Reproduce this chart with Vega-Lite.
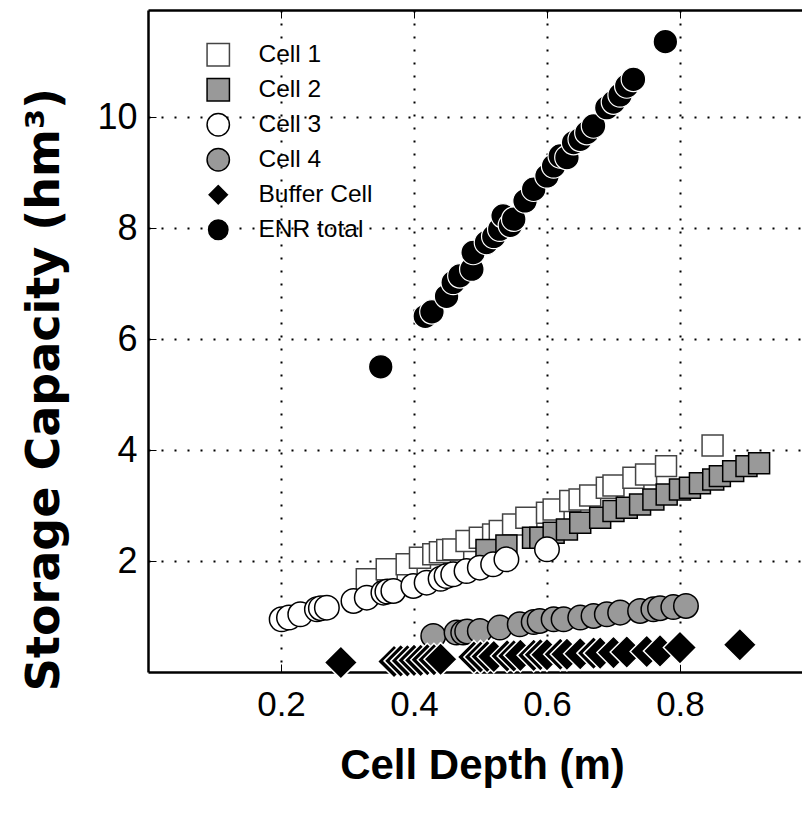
{
  "$schema": "https://vega.github.io/schema/vega-lite/v6.json",
  "width": 654,
  "height": 662,
  "autosize": {"type": "none"},
  "padding": {"left": 148, "top": 10, "right": 0, "bottom": 141},
  "background": "white",
  "config": {
    "view": {"stroke": null},
    "axis": {"labelColor": "black", "titleColor": "black", "tickColor": "black", "domainColor": "black"}
  },
  "datasets": {
    "pts": [
      {"series": "Cell 1", "d": 0.329, "s": 1.67},
      {"series": "Cell 1", "d": 0.359, "s": 1.85},
      {"series": "Cell 1", "d": 0.389, "s": 1.94},
      {"series": "Cell 1", "d": 0.409, "s": 2.06},
      {"series": "Cell 1", "d": 0.429, "s": 2.12},
      {"series": "Cell 1", "d": 0.439, "s": 2.16},
      {"series": "Cell 1", "d": 0.45, "s": 2.2},
      {"series": "Cell 1", "d": 0.459, "s": 2.21},
      {"series": "Cell 1", "d": 0.479, "s": 2.36},
      {"series": "Cell 1", "d": 0.499, "s": 2.42},
      {"series": "Cell 1", "d": 0.519, "s": 2.48},
      {"series": "Cell 1", "d": 0.529, "s": 2.54},
      {"series": "Cell 1", "d": 0.549, "s": 2.66},
      {"series": "Cell 1", "d": 0.569, "s": 2.78},
      {"series": "Cell 1", "d": 0.6, "s": 2.87},
      {"series": "Cell 1", "d": 0.61, "s": 2.93},
      {"series": "Cell 1", "d": 0.635, "s": 3.08},
      {"series": "Cell 1", "d": 0.649, "s": 3.11},
      {"series": "Cell 1", "d": 0.665, "s": 3.18},
      {"series": "Cell 1", "d": 0.69, "s": 3.32},
      {"series": "Cell 1", "d": 0.7, "s": 3.36},
      {"series": "Cell 1", "d": 0.73, "s": 3.5},
      {"series": "Cell 1", "d": 0.749, "s": 3.56},
      {"series": "Cell 1", "d": 0.779, "s": 3.71},
      {"series": "Cell 1", "d": 0.849, "s": 4.08},
      {"series": "Cell 2", "d": 0.509, "s": 2.2},
      {"series": "Cell 2", "d": 0.539, "s": 2.28},
      {"series": "Cell 2", "d": 0.579, "s": 2.42},
      {"series": "Cell 2", "d": 0.59, "s": 2.42},
      {"series": "Cell 2", "d": 0.61, "s": 2.51},
      {"series": "Cell 2", "d": 0.63, "s": 2.57},
      {"series": "Cell 2", "d": 0.65, "s": 2.69},
      {"series": "Cell 2", "d": 0.68, "s": 2.78},
      {"series": "Cell 2", "d": 0.7, "s": 2.9},
      {"series": "Cell 2", "d": 0.72, "s": 2.96},
      {"series": "Cell 2", "d": 0.74, "s": 3.02},
      {"series": "Cell 2", "d": 0.76, "s": 3.11},
      {"series": "Cell 2", "d": 0.78, "s": 3.2},
      {"series": "Cell 2", "d": 0.8, "s": 3.29},
      {"series": "Cell 2", "d": 0.815, "s": 3.32},
      {"series": "Cell 2", "d": 0.83, "s": 3.4},
      {"series": "Cell 2", "d": 0.85, "s": 3.47},
      {"series": "Cell 2", "d": 0.86, "s": 3.53},
      {"series": "Cell 2", "d": 0.88, "s": 3.62},
      {"series": "Cell 2", "d": 0.9, "s": 3.71},
      {"series": "Cell 2", "d": 0.919, "s": 3.76},
      {"series": "Cell 3", "d": 0.201, "s": 0.95},
      {"series": "Cell 3", "d": 0.212, "s": 0.98},
      {"series": "Cell 3", "d": 0.229, "s": 1.04},
      {"series": "Cell 3", "d": 0.254, "s": 1.13},
      {"series": "Cell 3", "d": 0.26, "s": 1.15},
      {"series": "Cell 3", "d": 0.269, "s": 1.16},
      {"series": "Cell 3", "d": 0.309, "s": 1.28},
      {"series": "Cell 3", "d": 0.329, "s": 1.34},
      {"series": "Cell 3", "d": 0.354, "s": 1.43},
      {"series": "Cell 3", "d": 0.36, "s": 1.45},
      {"series": "Cell 3", "d": 0.369, "s": 1.46},
      {"series": "Cell 3", "d": 0.399, "s": 1.55},
      {"series": "Cell 3", "d": 0.419, "s": 1.61},
      {"series": "Cell 3", "d": 0.44, "s": 1.68},
      {"series": "Cell 3", "d": 0.449, "s": 1.73},
      {"series": "Cell 3", "d": 0.459, "s": 1.76},
      {"series": "Cell 3", "d": 0.479, "s": 1.82},
      {"series": "Cell 3", "d": 0.499, "s": 1.88},
      {"series": "Cell 3", "d": 0.519, "s": 1.94},
      {"series": "Cell 3", "d": 0.539, "s": 2.03},
      {"series": "Cell 3", "d": 0.6, "s": 2.21},
      {"series": "Cell 4", "d": 0.429, "s": 0.65},
      {"series": "Cell 4", "d": 0.464, "s": 0.71},
      {"series": "Cell 4", "d": 0.474, "s": 0.71},
      {"series": "Cell 4", "d": 0.48, "s": 0.73},
      {"series": "Cell 4", "d": 0.499, "s": 0.74},
      {"series": "Cell 4", "d": 0.529, "s": 0.8},
      {"series": "Cell 4", "d": 0.559, "s": 0.86},
      {"series": "Cell 4", "d": 0.58, "s": 0.9},
      {"series": "Cell 4", "d": 0.589, "s": 0.92},
      {"series": "Cell 4", "d": 0.61, "s": 0.95},
      {"series": "Cell 4", "d": 0.625, "s": 0.95},
      {"series": "Cell 4", "d": 0.65, "s": 0.98},
      {"series": "Cell 4", "d": 0.67, "s": 1.01},
      {"series": "Cell 4", "d": 0.69, "s": 1.04},
      {"series": "Cell 4", "d": 0.71, "s": 1.07},
      {"series": "Cell 4", "d": 0.74, "s": 1.1},
      {"series": "Cell 4", "d": 0.76, "s": 1.13},
      {"series": "Cell 4", "d": 0.77, "s": 1.15},
      {"series": "Cell 4", "d": 0.79, "s": 1.17},
      {"series": "Cell 4", "d": 0.809, "s": 1.19},
      {"series": "Buffer Cell", "d": 0.29, "s": 0.17},
      {"series": "Buffer Cell", "d": 0.37, "s": 0.19},
      {"series": "Buffer Cell", "d": 0.38, "s": 0.2},
      {"series": "Buffer Cell", "d": 0.39, "s": 0.2},
      {"series": "Buffer Cell", "d": 0.4, "s": 0.21},
      {"series": "Buffer Cell", "d": 0.41, "s": 0.21},
      {"series": "Buffer Cell", "d": 0.42, "s": 0.22},
      {"series": "Buffer Cell", "d": 0.43, "s": 0.22},
      {"series": "Buffer Cell", "d": 0.44, "s": 0.23},
      {"series": "Buffer Cell", "d": 0.49, "s": 0.27},
      {"series": "Buffer Cell", "d": 0.5, "s": 0.27},
      {"series": "Buffer Cell", "d": 0.51, "s": 0.28},
      {"series": "Buffer Cell", "d": 0.52, "s": 0.28},
      {"series": "Buffer Cell", "d": 0.54, "s": 0.29},
      {"series": "Buffer Cell", "d": 0.55, "s": 0.29},
      {"series": "Buffer Cell", "d": 0.56, "s": 0.3},
      {"series": "Buffer Cell", "d": 0.58, "s": 0.3},
      {"series": "Buffer Cell", "d": 0.59, "s": 0.31},
      {"series": "Buffer Cell", "d": 0.6, "s": 0.31},
      {"series": "Buffer Cell", "d": 0.62, "s": 0.32},
      {"series": "Buffer Cell", "d": 0.63, "s": 0.32},
      {"series": "Buffer Cell", "d": 0.65, "s": 0.33},
      {"series": "Buffer Cell", "d": 0.67, "s": 0.34},
      {"series": "Buffer Cell", "d": 0.68, "s": 0.34},
      {"series": "Buffer Cell", "d": 0.7, "s": 0.35},
      {"series": "Buffer Cell", "d": 0.72, "s": 0.36},
      {"series": "Buffer Cell", "d": 0.75, "s": 0.37},
      {"series": "Buffer Cell", "d": 0.77, "s": 0.38},
      {"series": "Buffer Cell", "d": 0.8, "s": 0.44},
      {"series": "Buffer Cell", "d": 0.89, "s": 0.49},
      {"series": "ENR total", "d": 0.35, "s": 5.5},
      {"series": "ENR total", "d": 0.417, "s": 6.41},
      {"series": "ENR total", "d": 0.427, "s": 6.49},
      {"series": "ENR total", "d": 0.449, "s": 6.77},
      {"series": "ENR total", "d": 0.459, "s": 7.02},
      {"series": "ENR total", "d": 0.469, "s": 7.14},
      {"series": "ENR total", "d": 0.487, "s": 7.26},
      {"series": "ENR total", "d": 0.489, "s": 7.56},
      {"series": "ENR total", "d": 0.509, "s": 7.74},
      {"series": "ENR total", "d": 0.52, "s": 7.85},
      {"series": "ENR total", "d": 0.529, "s": 7.98},
      {"series": "ENR total", "d": 0.534, "s": 8.22},
      {"series": "ENR total", "d": 0.545, "s": 8.05},
      {"series": "ENR total", "d": 0.55, "s": 8.16},
      {"series": "ENR total", "d": 0.567, "s": 8.49},
      {"series": "ENR total", "d": 0.58, "s": 8.7},
      {"series": "ENR total", "d": 0.6, "s": 8.94},
      {"series": "ENR total", "d": 0.61, "s": 9.12},
      {"series": "ENR total", "d": 0.62, "s": 9.3},
      {"series": "ENR total", "d": 0.63, "s": 9.27},
      {"series": "ENR total", "d": 0.64, "s": 9.54},
      {"series": "ENR total", "d": 0.65, "s": 9.6},
      {"series": "ENR total", "d": 0.66, "s": 9.72},
      {"series": "ENR total", "d": 0.67, "s": 9.84},
      {"series": "ENR total", "d": 0.69, "s": 10.17},
      {"series": "ENR total", "d": 0.7, "s": 10.27},
      {"series": "ENR total", "d": 0.71, "s": 10.4},
      {"series": "ENR total", "d": 0.72, "s": 10.56},
      {"series": "ENR total", "d": 0.73, "s": 10.68},
      {"series": "ENR total", "d": 0.778, "s": 11.36}
    ]
  },
  "data": {"name": "pts"},
  "layer": [
    {
      "encoding": {
        "x": {
          "field": "d", "type": "quantitative",
          "scale": {"domain": [0, 0.9835], "nice": false, "zero": false},
          "axis": {
            "orient": "bottom", "values": [0.2, 0.4, 0.6, 0.8], "format": ".1f",
            "grid": true, "gridColor": "black", "gridDash": [2, 11], "gridWidth": 2, "gridOpacity": 1,
            "domain": true, "domainWidth": 2.5,
            "ticks": true, "tickSize": -8, "tickWidth": 1,
            "labelFont": "Liberation Sans", "labelFontSize": 35, "labelPadding": 23,
            "title": "Cell Depth (m)", "titleFont": "Liberation Sans",
            "titleFontSize": 42, "titleFontWeight": "bold",
            "titleX": 334, "titleY": 93, "titleAlign": "center", "titleBaseline": "middle"
          }
        },
        "y": {
          "field": "s", "type": "quantitative",
          "scale": {"domain": [0, 11.93], "nice": false, "zero": false},
          "axis": {
            "orient": "left", "values": [2, 4, 6, 8, 10], "format": "d",
            "grid": true, "gridColor": "black", "gridDash": [2, 11], "gridWidth": 2, "gridOpacity": 1,
            "domain": true, "domainWidth": 2.5,
            "ticks": true, "tickSize": -8, "tickWidth": 1,
            "labelFont": "Liberation Sans", "labelFontSize": 36, "labelPadding": 19,
            "title": "Storage Capacity (hm³)", "titleFont": "DejaVu Sans", "titleFontSize": 46, "titleFontWeight": "bold",
            "titleAngle": -90, "titleX": -104, "titleY": 379, "titleAlign": "center", "titleBaseline": "middle"
          }
        },
        "shape": {
          "field": "series", "type": "nominal",
          "scale": {"domain": ["Cell 1", "Cell 2", "Cell 3", "Cell 4", "Buffer Cell", "ENR total"],
                    "range": ["square", "square", "circle", "circle", "diamond", "circle"]},
          "legend": {
            "orient": "none", "legendX": 58, "legendY": 32.5, "title": null, "padding": 0,
            "labelFont": "Liberation Sans", "labelFontSize": 24.5, "labelColor": "black",
            "symbolSize": 500, "symbolStrokeWidth": 1.5, "labelOffset": 28, "rowPadding": 6
          }
        },
        "fill": {
          "field": "series", "type": "nominal",
          "scale": {"domain": ["Cell 1", "Cell 2", "Cell 3", "Cell 4", "Buffer Cell", "ENR total"],
                    "range": ["white", "#999999", "white", "#999999", "black", "black"]},
          "legend": {
            "orient": "none", "legendX": 58, "legendY": 32.5, "title": null, "padding": 0,
            "labelFont": "Liberation Sans", "labelFontSize": 24.5, "labelColor": "black",
            "symbolSize": 500, "symbolStrokeWidth": 1.5, "labelOffset": 28, "rowPadding": 6
          }
        },
        "stroke": {
          "field": "series", "type": "nominal",
          "scale": {"domain": ["Cell 1", "Cell 2", "Cell 3", "Cell 4", "Buffer Cell", "ENR total"],
                    "range": ["#444444", "black", "black", "black", "white", "white"]},
          "legend": {
            "orient": "none", "legendX": 58, "legendY": 32.5, "title": null, "padding": 0,
            "labelFont": "Liberation Sans", "labelFontSize": 24.5, "labelColor": "black",
            "symbolSize": 500, "symbolStrokeWidth": 1.5, "labelOffset": 28, "rowPadding": 6
          }
        }
      },
      "layer": [
        {"transform": [{"filter": "datum.series === 'Cell 1'"}],
         "mark": {"type": "point", "filled": true, "opacity": 1, "strokeWidth": 1.5, "size": 440}},
        {"transform": [{"filter": "datum.series === 'Cell 2'"}],
         "mark": {"type": "point", "filled": true, "opacity": 1, "strokeWidth": 1.5, "size": 440}},
        {"transform": [{"filter": "datum.series === 'Cell 3'"}],
         "mark": {"type": "point", "filled": true, "opacity": 1, "strokeWidth": 1.5, "size": 600}},
        {"transform": [{"filter": "datum.series === 'Cell 4'"}],
         "mark": {"type": "point", "filled": true, "opacity": 1, "strokeWidth": 1.5, "size": 600}},
        {"transform": [{"filter": "datum.series === 'Buffer Cell'"}],
         "mark": {"type": "point", "filled": true, "opacity": 1, "strokeWidth": 1.5, "size": 1100}},
        {"transform": [{"filter": "datum.series === 'ENR total'"}],
         "mark": {"type": "point", "filled": true, "opacity": 1, "strokeWidth": 1.2, "size": 600}}
      ]
    },
    {
      "mark": {"type": "point", "opacity": 0},
      "encoding": {
        "x": {
          "field": "d", "type": "quantitative",
          "axis": {
            "orient": "top", "values": [0.2, 0.4, 0.6, 0.8], "labels": false, "grid": false,
            "domain": true, "domainWidth": 2.5, "ticks": true, "tickSize": -8, "tickWidth": 1, "title": null
          }
        }
      }
    }
  ],
  "resolve": {"axis": {"x": "independent"}}
}
